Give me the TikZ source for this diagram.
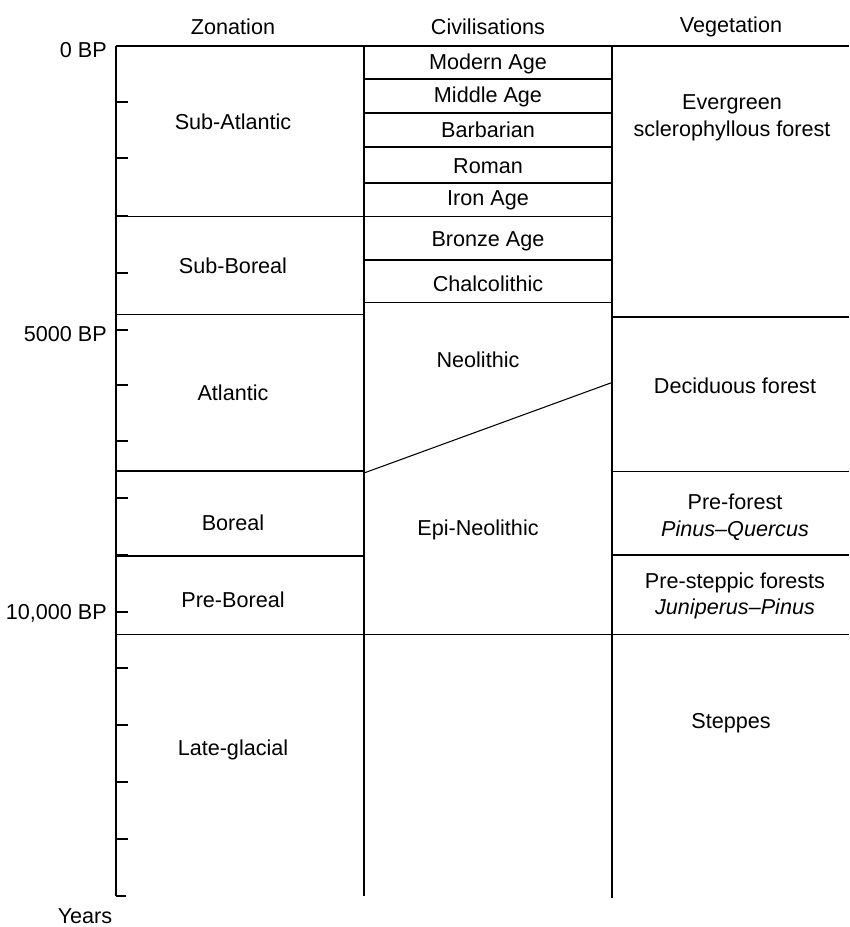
\documentclass[tikz,border=0pt]{standalone}
\usepackage{fontspec}
\setmainfont{Liberation Sans}
\begin{document}
\begin{tikzpicture}[x=0.75pt,y=-0.75pt,
  line/.style={line width=0.9pt,black},
  thin/.style={line width=0.8pt,black},
  lab/.style={inner sep=0pt,font=\fontsize{16.2}{20}\selectfont,align=center},
  axlab/.style={lab,anchor=east}]
\useasboundingbox (0,0) rectangle (849,927);
% headers
\node[lab] (hz) at (233,27) {Zonation};
\node[lab] (hc) at (488,27) {Civilisations};
\node[lab] (hv) at (731,27) {Vegetation};
% frame lines
\draw[line] (116,46) -- (849,46);
\draw[line] (116,46) -- (116,896);
\draw[line] (116,896) -- (126,896);
\draw[line] (364,46) -- (364,896);
\draw[line] (612,46) -- (612,898);
% ticks
\foreach \y in {102,158,216,273,330,385,441,498,555,612,668,725,782,839}
  \draw[line] (116,\y) -- (128,\y);
% axis labels
\node[axlab] (t0) at (107,50) {0 BP};
\node[axlab] (t5) at (107,334) {5000 BP};
\node[axlab] (t10) at (107,613) {10,000 BP};
\node[lab] (yrs) at (85,916) {Years};
% zonation boundaries
\draw[line] (116,216.5) -- (364,216.5);
\draw[line] (116,314.5) -- (364,314.5);
\draw[line] (116,471) -- (364,471);
\draw[line] (116,556) -- (364,556);
\draw[line] (116,634.5) -- (849,634.5);
% civilisation boundaries
\foreach \y in {79,113,147,183,216.5,260,302.5}
  \draw[line] (364,\y) -- (612,\y);
\draw[thin] (364,473) -- (612,382.5);
% vegetation boundaries
\draw[line] (612,317) -- (849,317);
\draw[line] (612,471.5) -- (849,471.5);
\draw[line] (612,555) -- (849,555);
% zonation labels
\node[lab] (z1) at (233,122) {Sub-Atlantic};
\node[lab] (z2) at (233,266) {Sub-Boreal};
\node[lab] (z3) at (233,393) {Atlantic};
\node[lab] (z4) at (233,523) {Boreal};
\node[lab] (z5) at (233,600) {Pre-Boreal};
\node[lab] (z6) at (233,750) {Late-glacial};
% civilisation labels
\node[lab] (c1) at (488,64) {Modern Age};
\node[lab] (c2) at (488,97) {Middle Age};
\node[lab] (c3) at (488,130) {Barbarian};
\node[lab] (c4) at (488,166) {Roman};
\node[lab] (c5) at (488,200) {Iron Age};
\node[lab] (c6) at (488,241) {Bronze Age};
\node[lab] (c7) at (488,284) {Chalcolithic};
\node[lab] (c8) at (478,360) {Neolithic};
\node[lab] (c9) at (478,530) {Epi-Neolithic};
% vegetation labels
\node[lab] (v1) at (732,118) {Evergreen\\sclerophyllous forest};
\node[lab] (v2) at (735,386) {Deciduous forest};
\node[lab] (v3) at (735,517) {Pre-forest\\\textit{Pinus–Quercus}};
\node[lab] (v4) at (735,596) {Pre-steppic forests\\\textit{Juniperus–Pinus}};
\node[lab] (v5) at (731,723) {Steppes};
\end{tikzpicture}
\end{document}
